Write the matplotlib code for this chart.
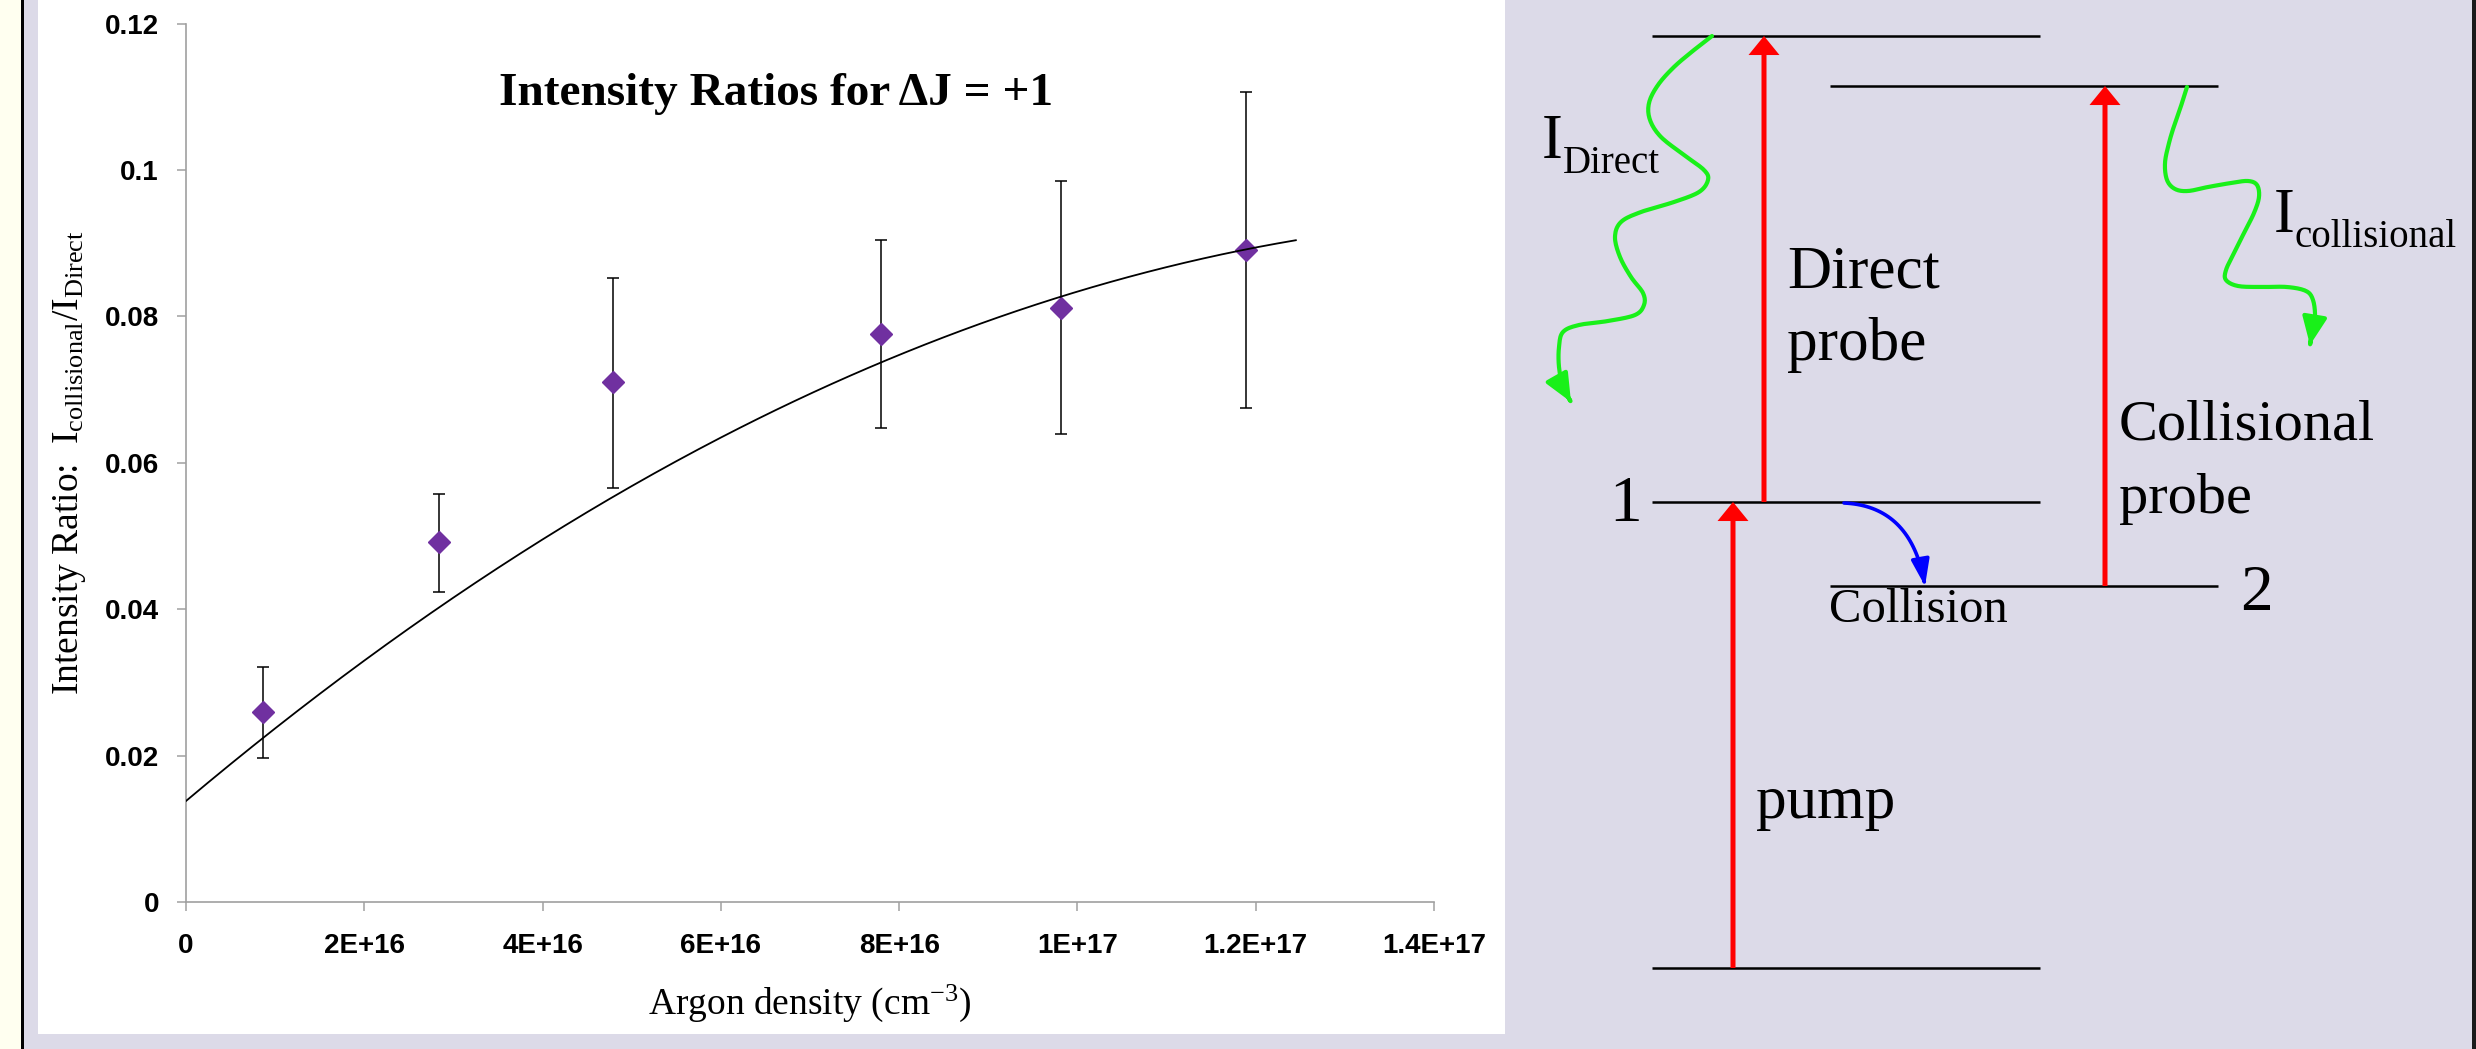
import numpy as np
import matplotlib
matplotlib.use('Agg')
import matplotlib.pyplot as plt
from matplotlib.patches import Rectangle, FancyArrowPatch, ArrowStyle
from matplotlib.path import Path

# ---------------- chart data ----------------
density = [8.6e15, 2.84e16, 4.79e16, 7.80e16, 9.82e16, 1.189e17]
ratio = [0.0259, 0.0492, 0.0710, 0.0776, 0.0812, 0.0891]
err_upper = [0.0321, 0.0557, 0.0853, 0.0904, 0.0985, 0.1107]
err_lower = [0.0197, 0.0424, 0.0566, 0.0648, 0.0640, 0.0675]
trend_coef = [0.0138, 1.025e-18, -3.29e-36]   # polynomial trendline c0, c1, c2
trend_end = 1.245e17

x_ticks = [0, 2e16, 4e16, 6e16, 8e16, 1e17, 1.2e17, 1.4e17]
x_labels = ['0', '2E+16', '4E+16', '6E+16', '8E+16', '1E+17', '1.2E+17', '1.4E+17']
y_ticks = [0, 0.02, 0.04, 0.06, 0.08, 0.10, 0.12]
y_labels = ['0', '0.02', '0.04', '0.06', '0.08', '0.1', '0.12']

title = 'Intensity Ratios for \u0394J = +1'
xlabel = r'Argon density (cm$^{\mathregular{-3}}$)'
ylabel = r'Intensity Ratio:  I$_{\mathregular{collisional}}$/I$_{\mathregular{Direct}}$'

# ---------------- diagram layout (pixel frame of the right panel) ----------------
levels_left = [968, 502, 36]      # ground, level 1, upper (direct)
levels_right = [586, 86]          # level 2, upper (collisional)
left_span = (1652, 2040)
right_span = (1830, 2218)
pump_x, direct_x, coll_x = 1733, 1764, 2105

wave_direct = [(1712, 36), (1694, 50), (1674, 67), (1658, 85), (1649, 103), (1650, 120),
               (1661, 137), (1684, 155), (1704, 170), (1708, 180), (1699, 192), (1674, 202),
               (1641, 212), (1621, 222), (1615, 237), (1620, 257), (1631, 277), (1643, 293),
               (1644, 305), (1635, 315), (1608, 321), (1579, 325), (1563, 332), (1559, 347),
               (1559, 367), (1563, 387), (1571, 402)]
wave_coll = [(2187, 87), (2182, 103), (2175, 123), (2169, 143), (2165, 163), (2167, 180),
             (2175, 189), (2188, 191), (2208, 187), (2231, 183), (2248, 181), (2257, 185),
             (2259, 197), (2254, 213), (2244, 233), (2234, 253), (2226, 270), (2226, 280),
             (2238, 286), (2261, 287), (2287, 287), (2306, 291), (2313, 300), (2315, 317),
             (2312, 333), (2310, 345)]
collision_curve = [(1844, 503), (1912, 506), (1925, 586)]

LAV = '#DCDAE8'
GREEN = '#19F019'

plt.rcParams['font.family'] = ['Liberation Serif', 'DejaVu Serif']
plt.rcParams['mathtext.fontset'] = 'custom'
plt.rcParams['mathtext.rm'] = 'Liberation Serif'
plt.rcParams['mathtext.it'] = 'Liberation Serif:italic'

W, H = 2476, 1049
fig = plt.figure(figsize=(W / 100, H / 100), dpi=100, facecolor=LAV)

# background / diagram frame
bg = fig.add_axes([0, 0, 1, 1], zorder=0)
bg.set_xlim(0, W)
bg.set_ylim(H, 0)
bg.axis('off')
bg.add_patch(Rectangle((0, 0), 21, H, color='#FFFFF0', lw=0))
bg.add_patch(Rectangle((21, 0), 3, H, color='black', lw=0))
bg.add_patch(Rectangle((38, 0), 1505 - 38, 1034, color='white', lw=0))
bg.add_patch(Rectangle((2472, 0), 4, H, color='#1a1a1a', lw=0))

# ---------------- chart ----------------
ax = fig.add_axes([186 / W, (H - 902) / H, (1434 - 186) / W, (902 - 23.7) / H], zorder=2)
ax.set_facecolor('none')
ax.set_xlim(0, 1.4e17)
ax.set_ylim(0, 0.12)

r = np.array(ratio)
yerr = [r - np.array(err_lower), np.array(err_upper) - r]
ax.errorbar(density, ratio, yerr=yerr, fmt='none', ecolor='black', elinewidth=1.1,
            capsize=4, capthick=1.1, zorder=3, clip_on=False)
ax.plot(density, ratio, linestyle='none', marker='D', ms=11.5, color='#7030A0',
        mec='#7030A0', zorder=4, clip_on=False)
xf = np.linspace(0, trend_end, 300)
yf = np.polyval(trend_coef[::-1], xf)
ax.plot(xf, yf, color='black', lw=1.3, zorder=5)

for s in ['top', 'right']:
    ax.spines[s].set_visible(False)
for s in ['left', 'bottom']:
    ax.spines[s].set_color('#A0A0A0')
    ax.spines[s].set_linewidth(1.2)

ax.set_xticks(x_ticks)
ax.set_xticklabels(x_labels, fontfamily='Liberation Sans', fontweight='bold', fontsize=20)
ax.set_yticks(y_ticks)
ax.set_yticklabels(y_labels, fontfamily='Liberation Sans', fontweight='bold', fontsize=20)
ax.tick_params(axis='both', direction='out', length=6.5, width=1.1, color='#A0A0A0')
ax.tick_params(axis='x', pad=16)
ax.tick_params(axis='y', pad=13)

ax.set_xlabel(xlabel, fontsize=27)
ax.xaxis.set_label_coords(0.5, (902 - 983) / 878.3)
ax.set_ylabel(ylabel, fontsize=27)
ax.yaxis.set_label_coords((88 - 186) / 1248, 0.5)
ax.text((776 - 186) / 1248, (902 - 105) / 878.3, title, transform=ax.transAxes,
        ha='center', va='baseline', fontsize=34, fontweight='bold')

# ---------------- energy level diagram ----------------
for y in levels_left:
    bg.plot(left_span, [y, y], color='black', lw=1.8, solid_capstyle='butt', zorder=2)
for y in levels_right:
    bg.plot(right_span, [y, y], color='black', lw=1.8, solid_capstyle='butt', zorder=2)

red_style = ArrowStyle('Simple', head_length=1.37, head_width=2.23, tail_width=0.36)
for x, y0, y1 in [(pump_x, levels_left[0], levels_left[1]),
                  (direct_x, levels_left[1], levels_left[2]),
                  (coll_x, levels_right[0], levels_right[1])]:
    bg.add_patch(FancyArrowPatch((x, y0), (x, y1), arrowstyle=red_style, mutation_scale=10,
                                 color='#FF0000', lw=0, shrinkA=0, shrinkB=0, zorder=3))


def smooth(pts, n=10):
    p = np.asarray(pts, float)
    p = np.vstack([p[0], p, p[-1]])
    out = []
    t = np.linspace(0, 1, n, endpoint=False)[:, None]
    for i in range(1, len(p) - 2):
        p0, p1, p2, p3 = p[i - 1], p[i], p[i + 1], p[i + 2]
        out.append(0.5 * ((2 * p1) + (-p0 + p2) * t + (2 * p0 - 5 * p1 + 4 * p2 - p3) * t ** 2
                          + (-p0 + 3 * p1 - 3 * p2 + p3) * t ** 3))
    out.append(p[-2][None])
    return np.vstack(out)


green_style = ArrowStyle('-|>', head_length=1.7, head_width=0.75)
for wave in (wave_direct, wave_coll):
    pts = smooth(wave)
    bg.add_patch(FancyArrowPatch(path=Path(pts), arrowstyle=green_style, mutation_scale=10,
                                 color=GREEN, lw=3.0, transform=bg.transData, zorder=3))

# collision (blue) arrow: quadratic bezier
c = np.asarray(collision_curve, float)
tt = np.linspace(0, 1, 40)[:, None]
bez = (1 - tt) ** 2 * c[0] + 2 * (1 - tt) * tt * c[1] + tt ** 2 * c[2]
bg.add_patch(FancyArrowPatch(path=Path(bez), arrowstyle=ArrowStyle('-|>', head_length=1.6, head_width=0.55),
                             mutation_scale=10, color='#0000FF', lw=2.6, transform=bg.transData, zorder=3))

# diagram texts
bg.text(1642, 521, '1', fontsize=47, ha='right', va='baseline')
bg.text(2240, 610, '2', fontsize=47, ha='left', va='baseline')
bg.text(1787, 287, 'Direct', fontsize=44, ha='left', va='baseline')
bg.text(1787, 360, 'probe', fontsize=44, ha='left', va='baseline')
bg.text(2119, 440, 'Collisional', fontsize=42, ha='left', va='baseline')
bg.text(2119, 513, 'probe', fontsize=42, ha='left', va='baseline')
bg.text(1756, 818, 'pump', fontsize=44, ha='left', va='baseline')
bg.text(1829, 622, 'Collision', fontsize=35, ha='left', va='baseline')
bg.text(1542, 158, 'I', fontsize=45, ha='left', va='baseline')
bg.text(1563, 173, 'Direct', fontsize=28, ha='left', va='baseline')
bg.text(2274, 232, 'I', fontsize=45, ha='left', va='baseline')
bg.text(2295, 247, 'collisional', fontsize=28, ha='left', va='baseline')

fig.savefig('out.png', dpi=100, facecolor=fig.get_facecolor())
